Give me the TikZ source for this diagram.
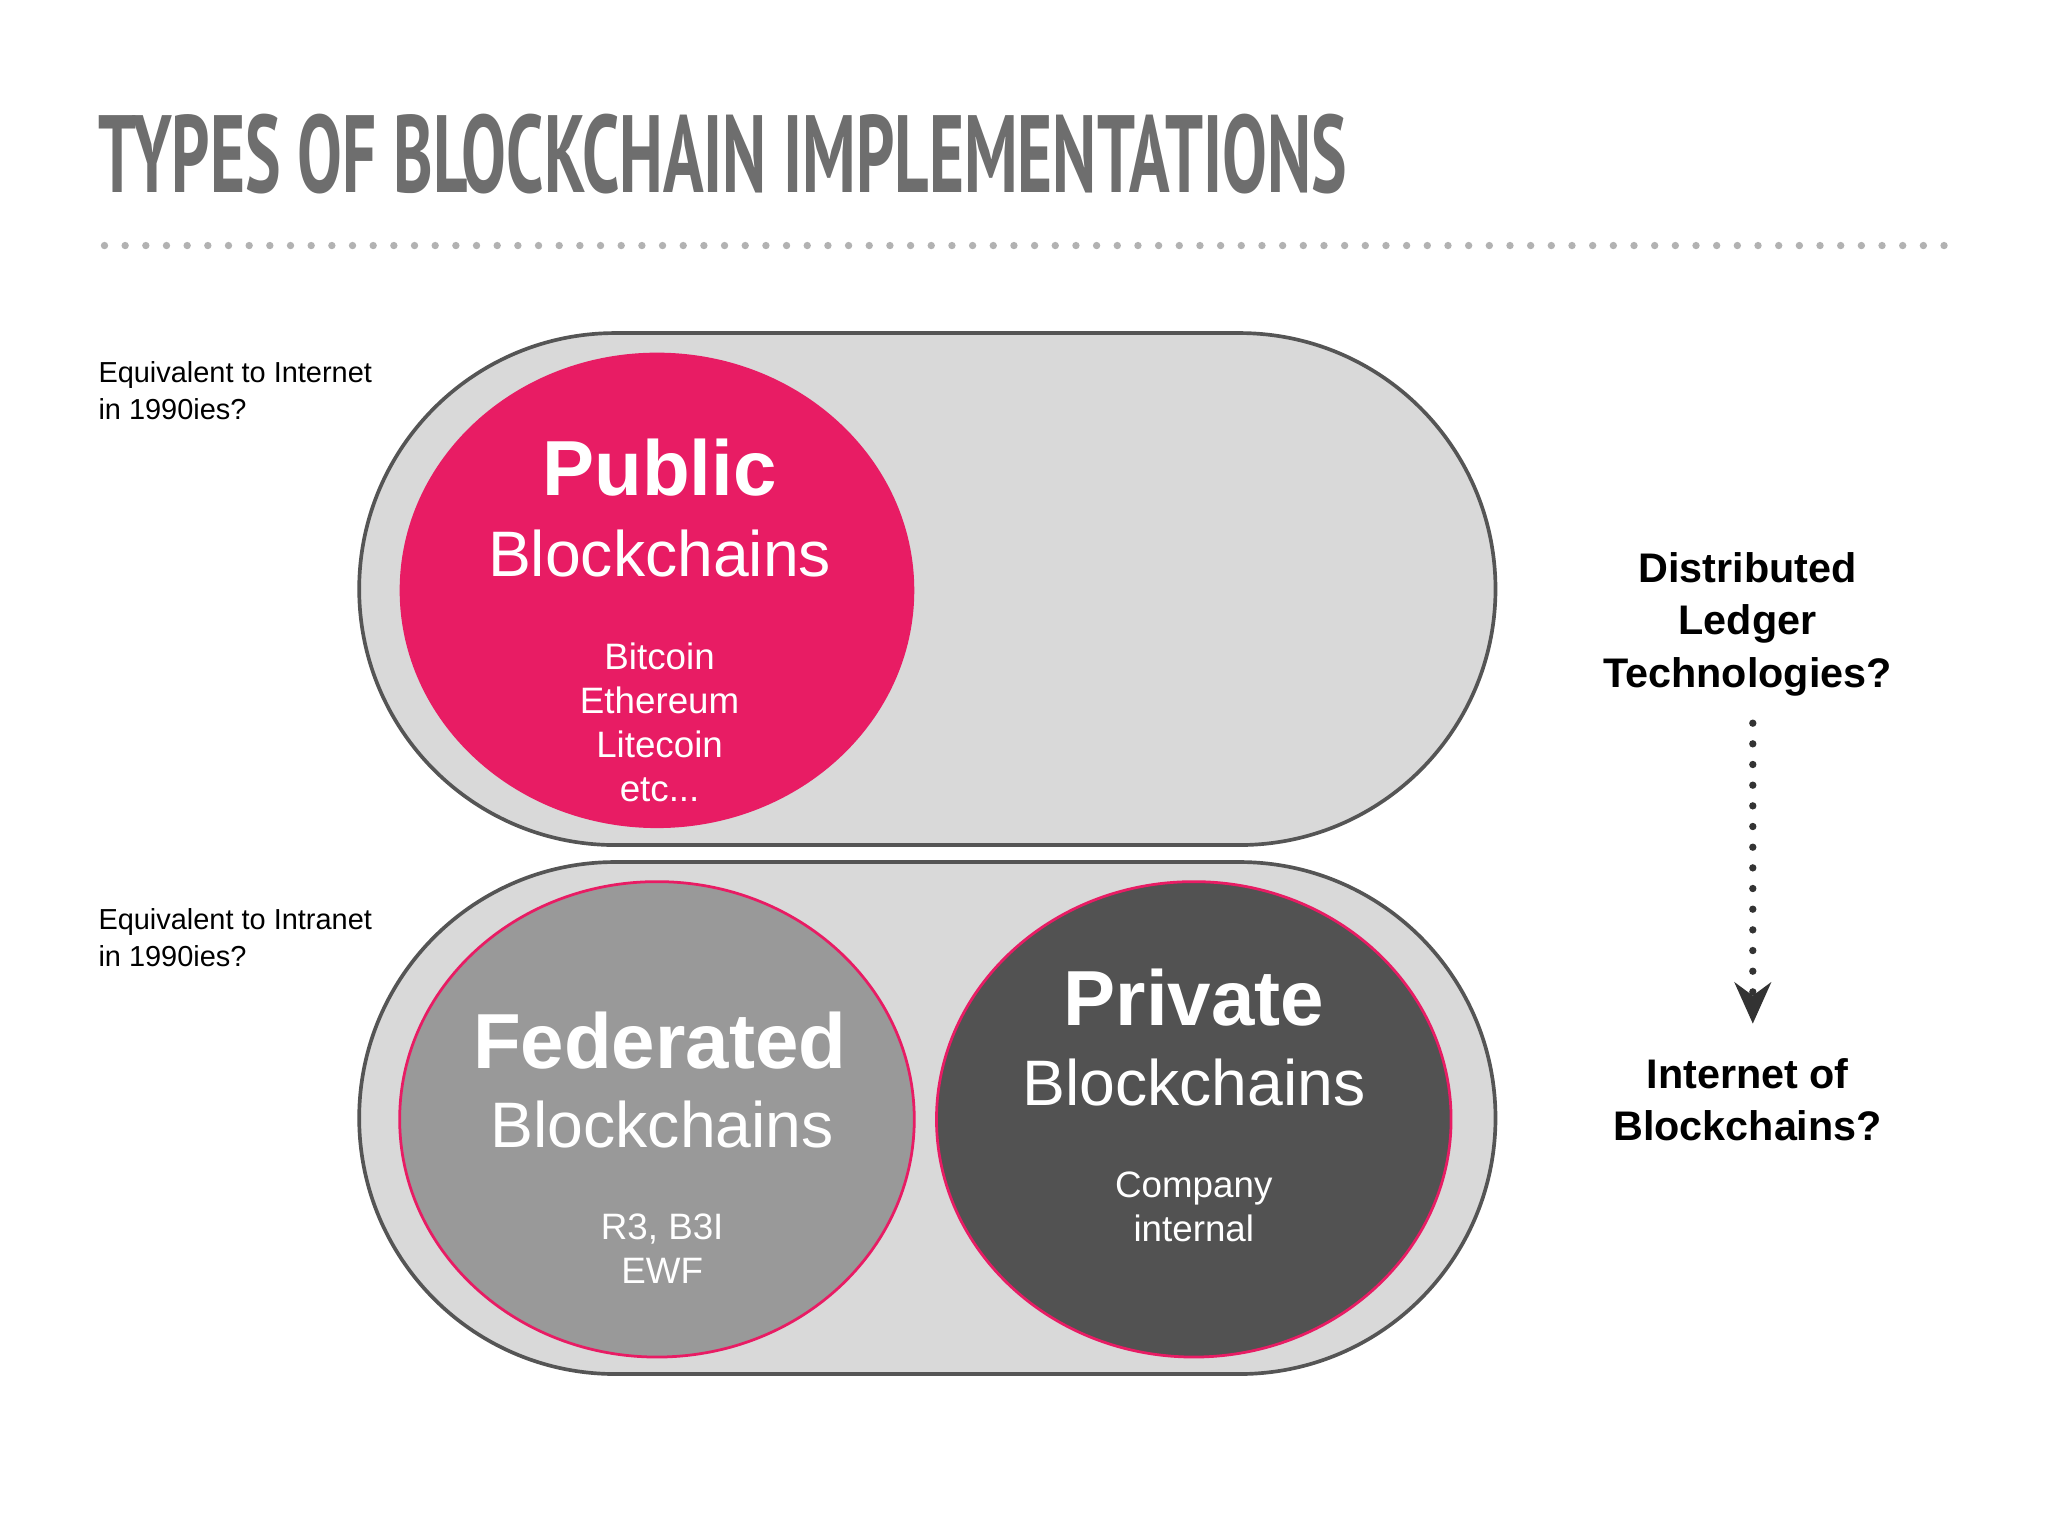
\documentclass[tikz,border=0pt]{standalone}
\usepackage{fontspec}
\setmainfont{Liberation Sans}
\newfontfamily\titlefont{PT Sans}
\usetikzlibrary{arrows.meta,calc}
\definecolor{pubpink}{HTML}{E81C64}
\definecolor{capsfill}{HTML}{D9D9D9}
\definecolor{capsline}{HTML}{555555}
\definecolor{titlegray}{HTML}{6E6E6E}
\tikzset{
  capsule/.style={fill=capsfill,draw=capsline,line width=0.8pt,rounded corners=1.96cm},
  dots/.style={line width=1.6pt,line cap=round,dash pattern=on 0pt off 4.5pt},
  bigw/.style={font=\bfseries\fontsize{17}{20}\selectfont,text=white},
  medw/.style={font=\fontsize{14}{16}\selectfont,text=white},
  smallw/.style={align=center,font=\fontsize{8}{9.6}\selectfont,text=white},
  leftlbl/.style={anchor=north west,align=left,font=\fontsize{6.3}{8.1}\selectfont},
  rightlbl/.style={align=center,font=\bfseries\fontsize{9}{11.5}\selectfont}
}
\begin{document}
\begin{tikzpicture}[x=0.01cm,y=-0.01cm]
\useasboundingbox (0,0) rectangle (1568,1176);
\fill[white] (0,0) rectangle (1568,1176);
\node[anchor=west,inner sep=0,text=titlegray] (title) at (75,118) {\resizebox{9.55cm}{0.6cm}{\titlefont\bfseries TYPES OF BLOCKCHAIN IMPLEMENTATIONS}};
\draw[dots,draw=gray!60] (80,188) -- (1490,188);
% capsules
\draw[capsule] (275,255) rectangle (1145,647);
\draw[capsule] (275,660) rectangle (1145,1052);
% circles
\fill[pubpink] (503,452) ellipse[x radius=197,y radius=182];
\filldraw[fill=black!40,draw=pubpink,line width=0.6pt] (503,857) ellipse[x radius=197,y radius=182];
\filldraw[fill=black!68,draw=pubpink,line width=0.6pt] (914,857) ellipse[x radius=197,y radius=182];
\node[bigw] (pub) at (505,358) {Public};
\node[medw] (pubb) at (505,424) {Blockchains};
\node[smallw] (publist) at (505,553) {Bitcoin\\Ethereum\\Litecoin\\etc...};
\node[bigw] (fed) at (505,797) {Federated};
\node[medw] (fedb) at (507,861) {Blockchains};
\node[smallw] (fedlist) at (507,956) {R3, B3I\\EWF};
\node[bigw] (pri) at (914,764) {Private};
\node[medw] (prib) at (914,829) {Blockchains};
\node[smallw] (prilist) at (914,924) {Company\\internal};
% left labels
\node[leftlbl] (l1) at (63,264) {Equivalent to Internet\\in 1990ies?};
\node[leftlbl] (l2) at (63,683) {Equivalent to Intranet\\in 1990ies?};
% right
\node[rightlbl] (dlt) at (1338,478) {Distributed\\Ledger\\Technologies?};
\node[rightlbl] (iob) at (1338,842) {Internet of\\Blockchains?};
\draw[dots,draw=black!80] ($(dlt.south)+(4,8)$) -- ++(0,215) coordinate (arrend);
\draw[-{Stealth[length=9pt,width=8pt]},draw=black!80,line width=1pt] ($(arrend)+(0,-5)$) -- ++(0,20);
\end{tikzpicture}
\end{document}
